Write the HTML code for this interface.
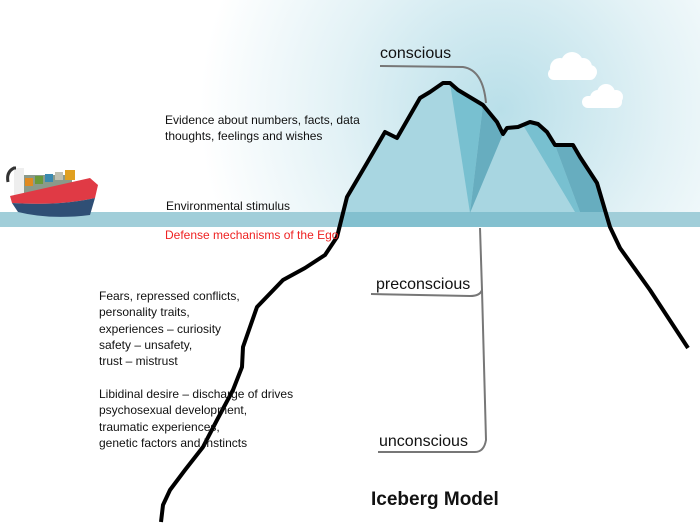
<!DOCTYPE html>
<html><head><style>
body{margin:0;width:700px;height:525px;overflow:hidden;background:#fff;font-family:"Liberation Sans",sans-serif;}
</style></head><body>
<svg width="700" height="525" viewBox="0 0 700 525" xmlns="http://www.w3.org/2000/svg" font-family="Liberation Sans, sans-serif">
<defs>
<radialGradient id="sky" cx="500" cy="110" r="300" gradientUnits="userSpaceOnUse">
<stop offset="0" stop-color="#b9dfe9"/><stop offset="0.55" stop-color="#e3f2f6"/><stop offset="1" stop-color="#ffffff"/>
</radialGradient>
</defs>
<rect x="0" y="0" width="700" height="212" fill="url(#sky)"/>
<!-- iceberg fill -->
<polygon points="337,237 347,197 367,163 385,132 397,138 420,98 430,92 443,83 450,83 458,90 483,105 497,122 503,134 507,128 518,127 530,122 538,124 547,132 555,145 573,145 580,157 597,183 610,227 337,227" fill="#a8d6e1"/>
<polygon points="450,83 483,105 470,213" fill="#78c0d0"/>
<polygon points="483,105 497,122 503,134 470,213" fill="#67adbf"/>
<polygon points="523,125 538,124 547,132 555,145 580,212 575,212" fill="#78c0d0"/>
<polygon points="555,145 573,145 580,157 597,183 606,212 580,212" fill="#67adbf"/>
<!-- water band -->
<rect x="0" y="212" width="700" height="15" fill="#6fb3c4" opacity="0.65"/>
<!-- clouds -->
<g fill="#fff">
<circle cx="560" cy="68" r="10"/><circle cx="572" cy="63" r="11"/><circle cx="583" cy="67" r="9"/><circle cx="590" cy="72" r="7"/><rect x="548" y="68" width="48" height="12" rx="6"/>
<circle cx="598" cy="98" r="8"/><circle cx="606" cy="93" r="9"/><circle cx="616" cy="97" r="7"/><rect x="582" y="96" width="40" height="12" rx="6"/>
</g>
<!-- ship -->
<g>
<rect x="22" y="175" width="50" height="22" fill="#8a9a8a"/>
<rect x="25" y="178" width="8" height="8" fill="#e08a20"/><rect x="35" y="176" width="8" height="8" fill="#6a9a3a"/><rect x="45" y="174" width="8" height="8" fill="#3a8ab0"/><rect x="55" y="172" width="8" height="8" fill="#c0c0b0"/><rect x="65" y="170" width="10" height="10" fill="#e0a020"/>
<rect x="14" y="168" width="10" height="28" fill="#eee"/>
<path d="M8,182 Q6,172 14,168 L16,168" stroke="#333" stroke-width="3" fill="none"/>
<path d="M10,196 L90,178 L98,185 L95,198 Q60,206 12,203 Z" fill="#e03a45"/>
<path d="M12,203 Q60,206 95,198 L90,215 Q50,220 18,212 Z" fill="#2f4f75"/>
</g>
<!-- outline -->
<polyline points="688,348 650,290 620,248 610,227 597,183 580,157 573,145 555,145 547,132 538,124 530,122 518,127 507,128 503,134 497,122 483,105 458,90 450,83 443,83 430,92 420,98 397,138 385,132 367,163 347,197 337,237 325,255 305,268 283,280 257,307 243,347 242,367 233,390 217,420 203,447 185,470 170,490 163,505 161,522" fill="none" stroke="#000" stroke-width="4" stroke-linejoin="round"/>
<!-- brackets -->
<path d="M380,66 L463,67 Q483,70 486,103" fill="none" stroke="#777" stroke-width="2"/>
<path d="M480,228 L482,290 Q480,296 470,296 L371,294" fill="none" stroke="#777" stroke-width="2"/>
<path d="M482,290 L486,440 Q484,452 475,452 L378,452" fill="none" stroke="#777" stroke-width="2"/>
<!-- labels -->
<g font-family="Liberation Sans, sans-serif" fill="#111">
<text x="380" y="58" font-size="16">conscious</text>
<text x="376" y="289" font-size="16">preconscious</text>
<text x="379" y="446" font-size="16">unconscious</text>
<text x="165" y="124" font-size="12">Evidence about numbers, facts, data</text>
<text x="165" y="140" font-size="12">thoughts, feelings and wishes</text>
<text x="166" y="210" font-size="12">Environmental stimulus</text>
<text x="165" y="239" font-size="12" fill="#ee2222">Defense mechanisms of the Ego</text>
<g font-size="12">
<text x="99" y="300">Fears, repressed conflicts,</text>
<text x="99" y="316">personality traits,</text>
<text x="99" y="333">experiences – curiosity</text>
<text x="99" y="349">safety – unsafety,</text>
<text x="99" y="365">trust – mistrust</text>
<text x="99" y="398">Libidinal desire – discharge of drives</text>
<text x="99" y="414">psychosexual development,</text>
<text x="99" y="431">traumatic experiences,</text>
<text x="99" y="447">genetic factors and instincts</text>
</g>
<text x="371" y="505" font-size="19" font-weight="bold">Iceberg Model</text>
</g>
</svg>
</body></html>
